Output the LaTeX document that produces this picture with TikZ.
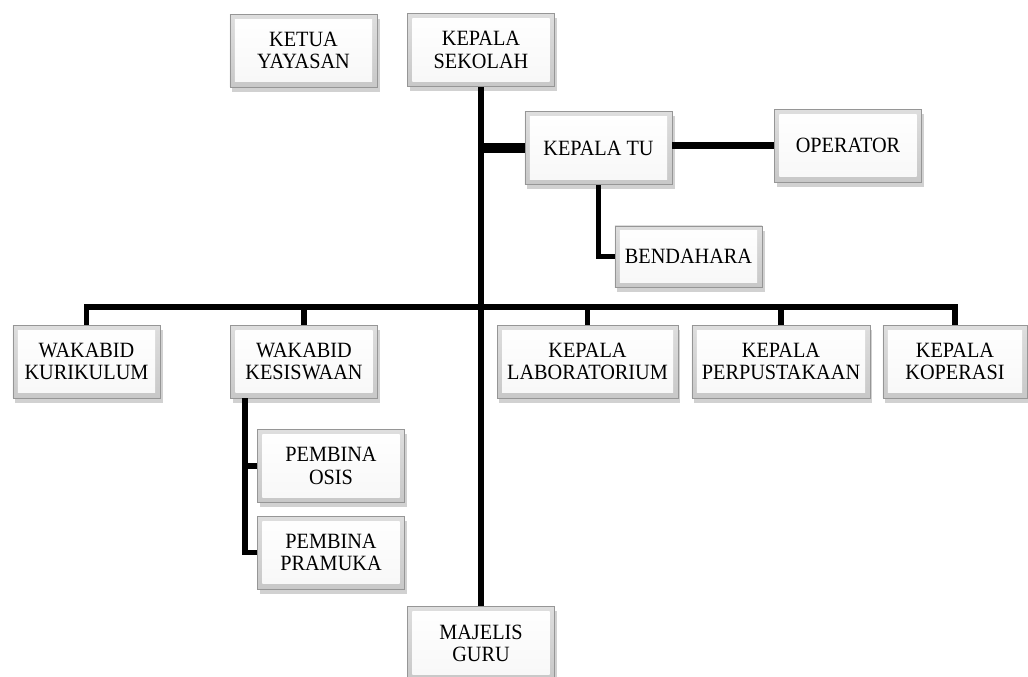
\documentclass[tikz,border=0pt]{standalone}
\usepackage{fontspec}
\setmainfont{Liberation Serif}[FakeStretch=0.93]
\usepackage{tikz}
\usetikzlibrary{shadows}
\definecolor{boxedge}{RGB}{150,150,150}
\definecolor{boxdark}{RGB}{200,200,200}

\tikzset{
    orgbox/.style={draw=boxedge, line width=0.5pt, top color=boxdark!60, bottom color=boxdark,
        minimum width=3.68cm, minimum height=1.82cm, inner sep=2pt, align=center,
        font=\fontsize{15.5}{15.8}\selectfont,
        drop shadow={shadow xshift=0.6mm, shadow yshift=-1.2mm, opacity=0.45, fill=gray!80},
        path picture={\shade[top color=white, bottom color=gray!6]
            ([shift={(3.5pt,-3.5pt)}]path picture bounding box.north west) rectangle
            ([shift={(-3.5pt,3.5pt)}]path picture bounding box.south east);}},
    link/.style={line width=4.2pt, black},
}

\begin{document}
\begin{tikzpicture}[x=0.025cm, y=-0.025cm]
    \useasboundingbox (0,0) rectangle (1028,677);

    % Pimpinan
    \node[orgbox] (yayasan) at (303.5,50.5) {KETUA\\YAYASAN};
    \node[orgbox] (sekolah) at (481,50) {KEPALA\\SEKOLAH};

    % Tata usaha
    \node[orgbox] (tu) at (598.5,148) {KEPALA TU};
    \node[orgbox] (operator) at (848,145.5) {OPERATOR};
    \node[orgbox, minimum height=1.53cm] (bendahara) at (688.5,256.5) {BENDAHARA};

    % Wakabid dan kepala unit
    \node[orgbox] (kurikulum) at (86.5,361.5) {WAKABID\\KURIKULUM};
    \node[orgbox] (kesiswaan) at (304,361.5) {WAKABID\\KESISWAAN};
    \node[orgbox, minimum width=4.52cm] (lab) at (587.5,361.5) {KEPALA\\LABORATORIUM};
    \node[orgbox, minimum width=4.45cm] (perpus) at (781,361.5) {KEPALA\\PERPUSTAKAAN};
    \node[orgbox, minimum width=3.6cm] (koperasi) at (955,361.5) {KEPALA\\KOPERASI};

    % Pembina
    \node[orgbox] (osis) at (331,466) {PEMBINA\\OSIS};
    \node[orgbox] (pramuka) at (331,552.5) {PEMBINA\\PRAMUKA};

    % Majelis guru
    \node[orgbox] (majelis) at (481,643) {MAJELIS\\GURU};

    % Garis
    \coordinate (bus) at (481,307);
    \coordinate (kstrunk) at (245,398);
    \draw[link] (sekolah.south) -- (majelis.north);
    \draw[link, line width=7pt] (sekolah.south |- tu.west) -- (tu.west);
    \draw[link, line width=5.5pt] (tu.east |- operator.west) -- (operator.west);
    \draw[link] (tu.south) |- (bendahara.west);
    \draw[link] (kurikulum.north) |- (bus) -| (koperasi.north);
    \draw[link] (kesiswaan.north) -- (kesiswaan.north |- bus);
    \draw[link] (lab.north) -- (lab.north |- bus);
    \draw[link] (perpus.north) -- (perpus.north |- bus);
    \draw[link] (kstrunk) |- (pramuka.west);
    \draw[link] (kstrunk |- osis.west) -- (osis.west);
\end{tikzpicture}
\end{document}
